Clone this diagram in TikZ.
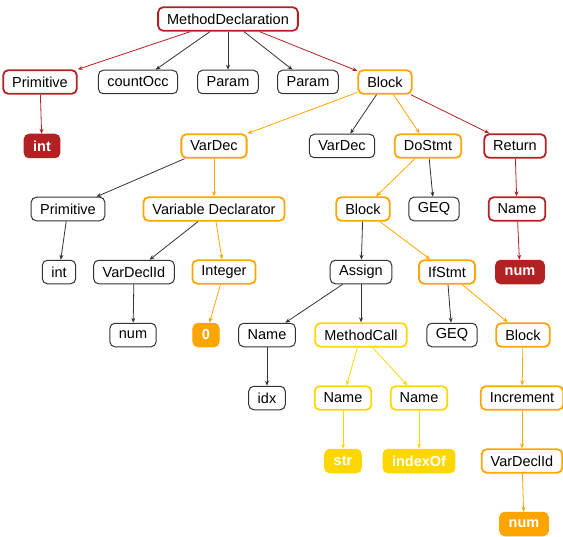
\documentclass[tikz,border=0pt]{standalone}
\usepackage{fontspec}
\setmainfont{Liberation Sans}
\usetikzlibrary{arrows.meta}
\definecolor{astred}{HTML}{B22222}
\definecolor{astorange}{HTML}{FFA500}
\definecolor{astyellow}{HTML}{FFD700}
\definecolor{astgray}{HTML}{333333}

\begin{document}
\begin{tikzpicture}[x=1bp, y=-1bp, >={Stealth[length=5bp,width=4bp]},
    ast/.style={draw=astgray, line width=1bp, rounded corners=5bp, minimum height=23.5bp,
        inner xsep=9bp, inner ysep=0pt, font=\fontsize{14.5bp}{16bp}\selectfont},
    hl/.style={ast, draw=#1, line width=1.8bp},
    leaf/.style={ast, draw=#1, fill=#1, text=white, font=\fontsize{14.5bp}{16bp}\selectfont\bfseries},
    link/.style={->, line width=0.8bp, draw=#1}, link/.default=astgray]
    \useasboundingbox (0,0) rectangle (563,537);

    % Hang 0 - 1
    \node[hl=astred] (md) at (228,19) {MethodDeclaration};
    \node[hl=astred] (p1) at (40,82) {Primitive};
    \node[ast] (cnt) at (138,82) {countOcc};
    \node[ast] (par1) at (228,82) {Param};
    \node[ast] (par2) at (308,82) {Param};
    \node[hl=astorange] (blk1) at (385,82) {Block};

    % Hang 2
    \node[leaf=astred] (int1) at (42,146) {int};
    \node[hl=astorange] (vd1) at (214,146) {VarDec};
    \node[ast] (vd2) at (342,146) {VarDec};
    \node[hl=astorange] (dos) at (428,146) {DoStmt};
    \node[hl=astred] (ret) at (515,146) {Return};

    % Hang 3
    \node[ast] (p2) at (68,209) {Primitive};
    \node[hl=astorange] (vdecl) at (214,209) {Variable Declarator};
    \node[hl=astorange] (blk2) at (363,209) {Block};
    \node[ast] (geq1) at (434,209) {GEQ};
    \node[hl=astred] (nm1) at (517,209) {Name};

    % Hang 4
    \node[ast] (int2) at (59,272) {int};
    \node[ast] (vid1) at (134,272) {VarDeclId};
    \node[hl=astorange] (intg) at (224,272) {Integer};
    \node[ast] (asg) at (361,272) {Assign};
    \node[hl=astorange] (ifs) at (447,272) {IfStmt};
    \node[leaf=astred] (num1) at (520,272) {num};

    % Hang 5
    \node[ast] (num2) at (133,335) {num};
    \node[leaf=astorange] (zero) at (206,335) {0};
    \node[ast] (nm2) at (267,335) {Name};
    \node[hl=astyellow] (mc) at (361,335) {MethodCall};
    \node[ast] (geq2) at (452,335) {GEQ};
    \node[hl=astorange] (blk3) at (523,335) {Block};

    % Hang 6 - 8
    \node[ast] (idx) at (267,398) {idx};
    \node[hl=astyellow] (nm3) at (343,398) {Name};
    \node[hl=astyellow] (nm4) at (419,398) {Name};
    \node[hl=astorange] (inc) at (522,398) {Increment};
    \node[leaf=astyellow] (str) at (343,461) {str};
    \node[leaf=astyellow] (iof) at (419,461) {indexOf};
    \node[hl=astorange] (vid2) at (522,461) {VarDeclId};
    \node[leaf=astorange] (num3) at (524,524) {num};

    % Canh den
    \draw[link] (md) -- (cnt);
    \draw[link] (md) -- (par1);
    \draw[link] (md) -- (par2);
    \draw[link] (blk1) -- (vd2);
    \draw[link] (vd1) -- (p2);
    \draw[link] (dos) -- (geq1);
    \draw[link] (p2) -- (int2);
    \draw[link] (vdecl) -- (vid1);
    \draw[link] (blk2) -- (asg);
    \draw[link] (vid1) -- (num2);
    \draw[link] (asg) -- (nm2);
    \draw[link] (asg) -- (mc);
    \draw[link] (ifs) -- (geq2);
    \draw[link] (nm2) -- (idx);

    % Canh do
    \draw[link=astred] (md) -- (p1);
    \draw[link=astred] (md) -- (blk1);
    \draw[link=astred] (p1) -- (int1);
    \draw[link=astred] (blk1) -- (ret);
    \draw[link=astred] (ret) -- (nm1);
    \draw[link=astred] (nm1) -- (num1);

    % Canh cam
    \draw[link=astorange] (blk1) -- (vd1);
    \draw[link=astorange] (blk1) -- (dos);
    \draw[link=astorange] (vd1) -- (vdecl);
    \draw[link=astorange] (vdecl) -- (intg);
    \draw[link=astorange] (intg) -- (zero);
    \draw[link=astorange] (dos) -- (blk2);
    \draw[link=astorange] (blk2) -- (ifs);
    \draw[link=astorange] (ifs) -- (blk3);
    \draw[link=astorange] (blk3) -- (inc);
    \draw[link=astorange] (inc) -- (vid2);
    \draw[link=astorange] (vid2) -- (num3);

    % Canh vang
    \draw[link=astyellow] (mc) -- (nm3);
    \draw[link=astyellow] (mc) -- (nm4);
    \draw[link=astyellow] (nm3) -- (str);
    \draw[link=astyellow] (nm4) -- (iof);
\end{tikzpicture}
\end{document}
